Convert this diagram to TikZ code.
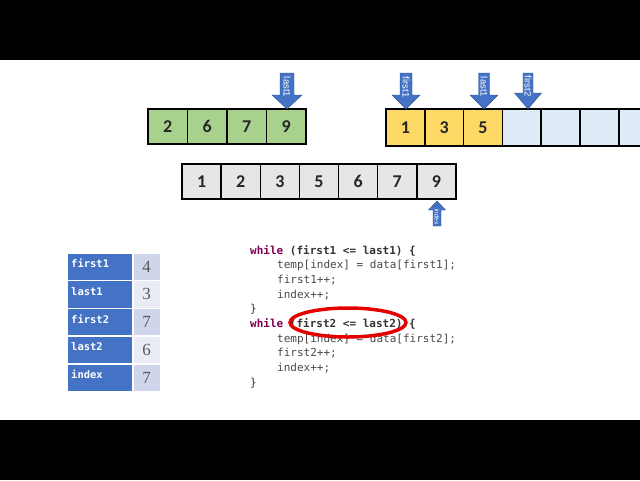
\documentclass[tikz,border=0pt]{standalone}
\usepackage{fontspec}
\setmainfont{Carlito}
\newfontfamily\codefont{DejaVu Sans Mono}
\newfontfamily\numfont{Liberation Serif}
\newfontfamily\arrfont{Liberation Sans}
\definecolor{cgreen}{HTML}{A9D18E}
\definecolor{cyellow}{HTML}{FFD966}
\definecolor{cblue}{HTML}{DEEBF7}
\definecolor{cgray}{HTML}{E7E6E6}
\definecolor{abl}{HTML}{4472C4}
\definecolor{abledge}{HTML}{2F528F}
\definecolor{tdark}{HTML}{CFD5EA}
\definecolor{tlight}{HTML}{E9EBF5}
\definecolor{kw}{HTML}{7F0055}
\definecolor{codegray}{HTML}{333333}
\definecolor{codelight}{HTML}{4A4A4A}
\definecolor{valgray}{HTML}{595959}
\newcommand\myDownArrow[6]{% x, shaft half, head half, head start y, label, tip y
  \fill[abl, draw=abledge, line width=0.4pt] ({#1-#2},73) -- ({#1+#2},73) -- ({#1+#2},#4) -- ({#1+#3},#4) -- (#1,#6) -- ({#1-#3},#4) -- ({#1-#2},#4) -- cycle;
  \node[arrowlabel, rotate=-90] at (#1,{(73+#4)/2+3}) {#5};}
\begin{document}
\begin{tikzpicture}[x=1pt,y=-1pt,
  cell/.style={draw=black, line width=1.5pt, minimum width=39pt, minimum height=36pt, inner sep=0pt, font=\bfseries\fontsize{18}{18}\selectfont, text=black!85},
  arrowlabel/.style={text=white, font=\arrfont\fontsize{9.5}{9.5}\selectfont, inner sep=0pt},
  tlabel/.style={fill=abl, text=white, minimum width=65pt, minimum height=26.5pt, inner sep=0pt, font=\codefont\bfseries\fontsize{10.5}{10.5}\selectfont, anchor=north west, text width=59pt, align=left},
  tval/.style={minimum width=27pt, minimum height=26.5pt, inner sep=0pt, text=valgray, font=\numfont\fontsize{17}{17}\selectfont, anchor=north west},
  code/.style={anchor=base west, inner sep=0pt, font=\codefont\fontsize{11}{11}\selectfont, text=codelight},
]
\useasboundingbox (0,0) rectangle (640,480);
\fill[white] (0,0) rectangle (640,480);
\fill[black] (0,0) rectangle (640,60);
\fill[black] (0,420) rectangle (640,480);

% green array
\foreach \v [count=\i from 0] in {2,6,7,9}
  \node[cell, fill=cgreen, minimum width=39.5pt, minimum height=35pt] (g\i) at ({148+19.75+39.5*\i},126.5) {\v};
% yellow / blue array
\foreach \v [count=\i from 0] in {1,3,5}
  \node[cell, fill=cyellow, minimum width=38.8pt, minimum height=37pt] (y\i) at ({386+19.4+38.8*\i},127.5) {\v};
\foreach \i in {3,...,6}
  \node[cell, fill=cblue, minimum width=38.8pt, minimum height=37pt] (y\i) at ({386+19.4+38.8*\i},127.5) {};
% gray array
\foreach \v [count=\i from 0] in {1,2,3,5,6,7,9}
  \node[cell, fill=cgray, minimum width=39.14pt, minimum height=35pt] (m\i) at ({182+19.57+39.14*\i},181.5) {\v};

% down arrows
\myDownArrow{287}{7}{15}{95}{last1}{109}
\myDownArrow{406}{6}{14}{95}{first1}{109}
\myDownArrow{484}{5.5}{14}{95}{last1}{109}
\myDownArrow{528}{5}{13.5}{93}{first2}{109}

% index up arrow
\fill[abl, draw=abledge, line width=0.4pt] (433,226) -- (441,226) -- (441,210) -- (445.5,210) -- (437,201) -- (428.5,210) -- (433,210) -- cycle;
\node[arrowlabel, rotate=-90, font=\arrfont\fontsize{6.5}{6.5}\selectfont] (idxlab) at (437,217) {index};

% table
\foreach \lab/\val/\col [count=\i from 0] in {first1/4/tdark, last1/3/tlight, first2/7/tdark, last2/6/tlight, index/7/tdark} {
  \node[tlabel] (tl\i) at (68,{253+27.8*\i}) {\raisebox{4pt}{\lab}\vphantom{Ag}\hfill};
  \node[tval, fill=\col] (tv\i) at (133,{253+27.8*\i}) {\raisebox{-2pt}{\val}};
  \draw[white, line width=1.2pt] (68,{253+27.8*\i}) -- (160,{253+27.8*\i});
}
\draw[white, line width=1.2pt] (133,253) -- (133,392);

% code
\def\ls{14.67}
\node[code] (c0) at (250,254) {\textcolor{kw}{\bfseries while} \textcolor{codegray}{\bfseries(first1 <= last1) \{}};
\node[code] (c1) at (277,{254+\ls}) {temp[index] = data[first1];};
\node[code] (c2) at (277,{254+2*\ls}) {first1++;};
\node[code] (c3) at (277,{254+3*\ls}) {index++;};
\node[code] (c4) at (250,{254+4*\ls}) {\textcolor{codegray}{\}}};
\node[code] (c5) at (250,{254+5*\ls}) {\textcolor{kw}{\bfseries while} \textcolor{codegray}{\bfseries(first2 <= last2) \{}};
\node[code] (c6) at (277,{254+6*\ls}) {temp[index] = data[first2];};
\node[code] (c7) at (277,{254+7*\ls}) {first2++;};
\node[code] (c8) at (277,{254+8*\ls}) {index++;};
\node[code] (c9) at (250,{254+9*\ls}) {\textcolor{codegray}{\}}};

% red ellipse
\draw[red!90!black, line width=3.5pt] (348,322.5) ellipse [x radius=58, y radius=14.5];
\end{tikzpicture}
\end{document}
